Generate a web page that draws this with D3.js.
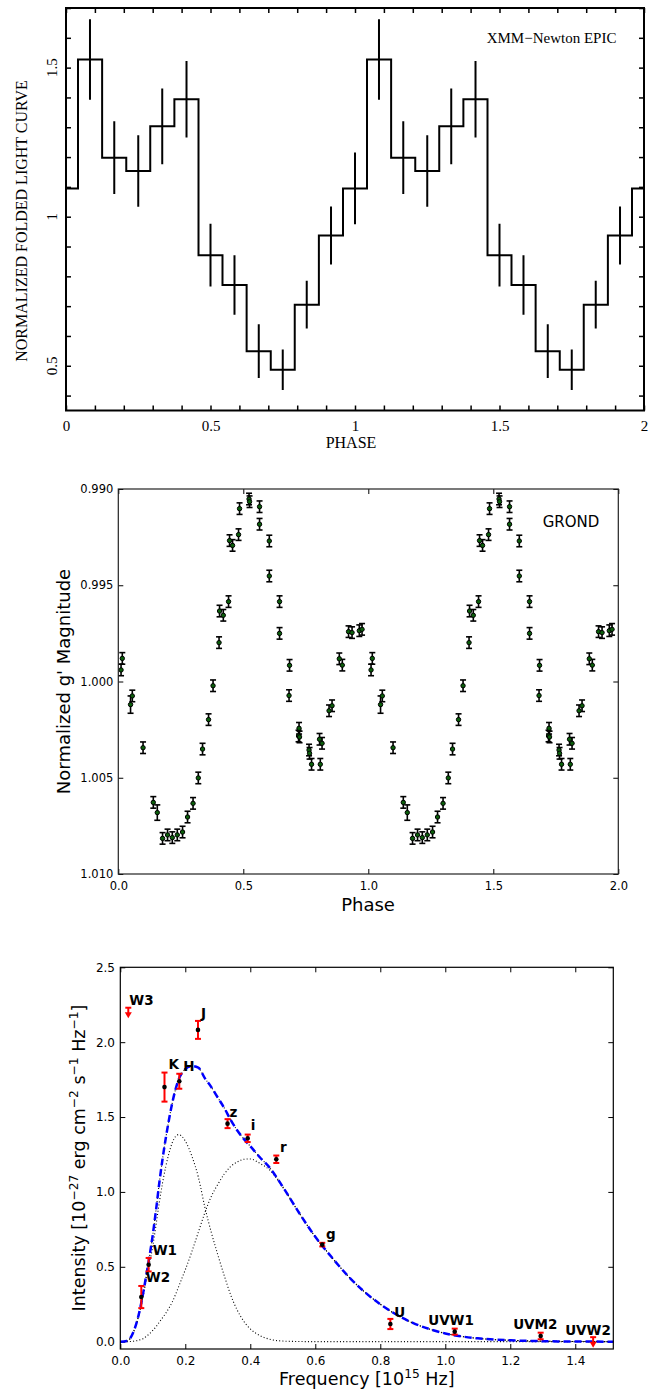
<!DOCTYPE html>
<html>
<head>
<meta charset="utf-8">
<script src="https://cdn.jsdelivr.net/npm/d3@7"></script>
<style>
  html, body { margin: 0; padding: 0; background: #ffffff; }
  svg { display: block; }
</style>
</head>
<body>
<svg id="chart" width="659" height="1392"></svg>
<script>
// ===== Panel A: XMM-Newton EPIC folded X-ray light curve (12 bins per cycle) =====
const xrayPhase = [0.000, 0.083, 0.167, 0.250, 0.333, 0.417, 0.500, 0.583, 0.667, 0.750, 0.833, 0.917];
const xrayRate  = [1.095, 1.527, 1.198, 1.153, 1.303, 1.394, 0.871, 0.771, 0.549, 0.487, 0.705, 0.937];
const xrayErr   = [0.120, 0.135, 0.122, 0.120, 0.127, 0.128, 0.105, 0.100, 0.090, 0.068, 0.080, 0.097];
const xrayCycles = [0, 1];
const xrayXMajor = [0, 0.5, 1, 1.5, 2];
const xrayXMinor = [0.1, 0.2, 0.3, 0.4, 0.6, 0.7, 0.8, 0.9, 1.1, 1.2, 1.3, 1.4, 1.6, 1.7, 1.8, 1.9];
const xrayYMajor = [0.5, 1, 1.5];
const xrayYMinor = [0.4, 0.6, 0.7, 0.8, 0.9, 1.1, 1.2, 1.3, 1.4, 1.6, 1.7];

// ===== Panel B: GROND g' folded optical light curve =====
const opticalPhase = [0.011, 0.016, 0.049, 0.056, 0.099, 0.140, 0.156, 0.177, 0.197, 0.216,
                      0.236, 0.257, 0.277, 0.299, 0.320, 0.337, 0.361, 0.379, 0.403, 0.405,
                      0.420, 0.441, 0.445, 0.457, 0.481, 0.485, 0.523, 0.525, 0.565, 0.565,
                      0.604, 0.604, 0.645, 0.645, 0.685, 0.683, 0.723, 0.721, 0.725, 0.763,
                      0.765, 0.773, 0.805, 0.815, 0.808, 0.843, 0.855, 0.884, 0.896, 0.921,
                      0.935, 0.964, 0.975];
const opticalMag = [0.99940, 0.99880, 1.00120, 1.00075, 1.00344, 1.00628, 1.00681, 1.00815, 1.00797, 1.00811,
                    1.00797, 1.00782, 1.00704, 1.00633, 1.00501, 1.00351, 1.00198, 1.00022, 0.99798, 0.99634,
                    0.99656, 0.99585, 0.99268, 0.99293, 0.99237, 0.99102, 0.99052, 0.99066, 0.99092, 0.99183,
                    0.99270, 0.99452, 0.99585, 0.99750, 0.99916, 1.00073, 1.00243, 1.00283, 1.00288, 1.00356,
                    1.00373, 1.00430, 1.00300, 1.00321, 1.00430, 1.00152, 1.00126, 0.99882, 0.99915, 0.99741,
                    0.99746, 0.99736, 0.99729];
const opticalErr = [0.0003, 0.0003, 0.00045, 0.0003, 0.0003, 0.0003, 0.0004, 0.0003, 0.0003, 0.0003,
                    0.0003, 0.0003, 0.0003, 0.0003, 0.0003, 0.0003, 0.0003, 0.0003, 0.0003, 0.0003,
                    0.0003, 0.0003, 0.0003, 0.0003, 0.0003, 0.0003, 0.0003, 0.0003, 0.0003, 0.0003,
                    0.0003, 0.0003, 0.0003, 0.0003, 0.0003, 0.0003, 0.0003, 0.0003, 0.0003, 0.0003,
                    0.0003, 0.0003, 0.0003, 0.0003, 0.0003, 0.0003, 0.0003, 0.0003, 0.0003, 0.0003,
                    0.0003, 0.0003, 0.0003];
const opticalCycles = [0, 1];
const opticalXTicks = [0, 0.5, 1.0, 1.5, 2.0];
const opticalYTicks = [0.990, 0.995, 1.000, 1.005, 1.010];

// ===== Panel C: spectral energy distribution with two-component model =====
const sedBand = ["W2", "W1", "K", "H", "J", "z", "i", "r", "g", "U", "UVW1", "UVM2"];
const sedFreq = [0.0646, 0.0872, 0.136, 0.1815, 0.239, 0.330, 0.392, 0.480, 0.6215, 0.831, 1.029, 1.2935];
const sedFlux = [0.298, 0.514, 1.700, 1.739, 2.082, 1.456, 1.358, 1.218, 0.648, 0.118, 0.067, 0.038];
const sedErr  = [0.074, 0.045, 0.097, 0.050, 0.060, 0.030, 0.025, 0.025, 0.012, 0.034, 0.020, 0.022];
const limitBand = ["W3", "UVW2"];
const limitFreq = [0.0246, 1.455];
const limitFlux = [2.20, 0.00];

const modelFreq = [0, 0.02, 0.03, 0.04, 0.05, 0.06, 0.07, 0.08, 0.09, 0.10,
                   0.11, 0.12, 0.13, 0.14, 0.15, 0.16, 0.17, 0.18, 0.19, 0.20,
                   0.22, 0.24, 0.26, 0.28, 0.30, 0.32, 0.34, 0.36, 0.38, 0.40,
                   0.43, 0.46, 0.50, 0.55, 0.60, 0.65, 0.70, 0.75, 0.80, 0.85,
                   0.90, 0.95, 1.00, 1.05, 1.10, 1.15, 1.20, 1.30, 1.40, 1.52];
const coolComponent = [0, 0.005, 0.02, 0.06, 0.12, 0.20, 0.30, 0.41, 0.52, 0.64,
                       0.78, 0.93, 1.06, 1.17, 1.26, 1.33, 1.37, 1.383, 1.37, 1.34,
                       1.24, 1.10, 0.90, 0.73, 0.58, 0.44, 0.31, 0.21, 0.136, 0.085,
                       0.04, 0.016, 0.004, 0.001, 0, 0, 0, 0, 0, 0,
                       0, 0, 0, 0, 0, 0, 0, 0, 0, 0];
const hotComponent = [0, 0, 0.001, 0.003, 0.006, 0.012, 0.02, 0.035, 0.053, 0.075,
                      0.10, 0.13, 0.16, 0.19, 0.225, 0.265, 0.315, 0.37, 0.425, 0.48,
                      0.60, 0.73, 0.86, 0.97, 1.05, 1.12, 1.17, 1.20, 1.218, 1.22,
                      1.19, 1.145, 1.03, 0.86, 0.70, 0.565, 0.44, 0.335, 0.25, 0.18,
                      0.125, 0.085, 0.055, 0.035, 0.022, 0.014, 0.009, 0.003, 0.001, 0];
const modelTotal = [0, 0.005, 0.021, 0.063, 0.126, 0.212, 0.32, 0.445, 0.573, 0.715,
                    0.88, 1.06, 1.22, 1.36, 1.485, 1.595, 1.685, 1.753, 1.795, 1.82,
                    1.84, 1.83, 1.76, 1.70, 1.63, 1.56, 1.48, 1.41, 1.354, 1.305,
                    1.23, 1.161, 1.034, 0.861, 0.70, 0.565, 0.44, 0.335, 0.25, 0.18,
                    0.125, 0.085, 0.055, 0.035, 0.022, 0.014, 0.009, 0.003, 0.001, 0];
const sedXTicks = [0.0, 0.2, 0.4, 0.6, 0.8, 1.0, 1.2, 1.4];
const sedYTicks = [0.0, 0.5, 1.0, 1.5, 2.0, 2.5];

// label placement relative to each point, in pixels
const sedLabelOffset = {
  W3: [1, -7], W2: [4.5, -15], W1: [4, -9.5], K: [4, -18], H: [4, -10.5], J: [3, -12],
  z: [2, -7], i: [3, -8.3], r: [3.7, -7.6], g: [3.7, -6], U: [4, -7.3],
  UVW1: [-26.5, -6.7], UVM2: [-27.5, -6.7], UVW2: [-28, -6.7]
};

// ---------------------------------------------------------------------------
const SERIF = "'Liberation Serif', 'Times New Roman', serif";
const SANS = "'DejaVu Sans', sans-serif";
const svg = d3.select("#chart");

function styleAxis(g, font, size) {
  g.select(".domain").remove();
  g.selectAll("text").attr("font-family", font).attr("font-size", size).attr("fill", "#000");
  g.selectAll("line").attr("stroke", "#000");
  g.attr("font-family", null).attr("font-size", null);
}

function addRich(textSel, parts, fs) {
  const shift = fs * 0.42;
  let up = false;
  parts.forEach(([t, sup]) => {
    const ts = textSel.append("tspan").text(t);
    if (sup) {
      ts.attr("font-size", fs * 0.7);
      if (!up) { ts.attr("dy", -shift); up = true; }
    } else if (up) {
      ts.attr("dy", shift); up = false;
    }
  });
}

// ======================= Panel A =======================
(function () {
  const L = 66, R = 644, T = 8, B = 410.5;
  const x = d3.scaleLinear().domain([0, 2]).range([L, R]);
  const y = d3.scaleLinear().domain([0.35, 1.7]).range([B, T]);
  const g = svg.append("g");

  g.append("clipPath").attr("id", "clipA").append("rect")
    .attr("x", L).attr("y", T).attr("width", R - L).attr("height", B - T);

  const bins = [];
  xrayCycles.forEach(c => xrayPhase.forEach((p, i) => bins.push({ ph: p + c, v: xrayRate[i], e: xrayErr[i] })));
  bins.push({ ph: xrayPhase[0] + 2, v: xrayRate[0], e: xrayErr[0] });

  const plot = g.append("g").attr("clip-path", "url(#clipA)");
  plot.append("path")
    .datum(bins)
    .attr("fill", "none").attr("stroke", "#000").attr("stroke-width", 2)
    .attr("d", d3.line().x(d => x(d.ph)).y(d => y(d.v)).curve(d3.curveStep));
  plot.selectAll("line.err").data(bins).join("line").attr("class", "err")
    .attr("x1", d => x(d.ph)).attr("x2", d => x(d.ph))
    .attr("y1", d => y(d.v - d.e)).attr("y2", d => y(d.v + d.e))
    .attr("stroke", "#000").attr("stroke-width", 2);

  // ticks on all four sides, pointing inward
  const tl = 5;
  const axes = [
    [d3.axisBottom(x).tickValues(xrayXMinor).tickFormat("").tickSizeInner(-tl).tickSizeOuter(0), `translate(0,${B})`],
    [d3.axisTop(x).tickValues(xrayXMinor.concat(xrayXMajor)).tickFormat("").tickSizeInner(-tl).tickSizeOuter(0), `translate(0,${T})`],
    [d3.axisLeft(y).tickValues(xrayYMinor.concat(xrayYMajor)).tickFormat("").tickSizeInner(-tl).tickSizeOuter(0), `translate(${L},0)`],
    [d3.axisRight(y).tickValues(xrayYMinor.concat(xrayYMajor)).tickFormat("").tickSizeInner(-tl).tickSizeOuter(0), `translate(${R},0)`]
  ];
  axes.forEach(([ax, tr]) => {
    const a = g.append("g").attr("transform", tr).call(ax);
    styleAxis(a, SERIF, 15);
    a.selectAll("line").attr("stroke-width", 1.5);
  });
  const xb = g.append("g").attr("transform", `translate(0,${B})`)
    .call(d3.axisBottom(x).tickValues(xrayXMajor).tickFormat(d => String(d)).tickSizeInner(-tl).tickSizeOuter(0).tickPadding(9.5));
  styleAxis(xb, SERIF, 15);
  xb.selectAll("line").attr("stroke-width", 1.5);

  // rotated y tick labels
  g.selectAll("text.ylab").data(xrayYMajor).join("text").attr("class", "ylab")
    .attr("transform", d => `translate(57,${y(d)}) rotate(-90)`)
    .attr("text-anchor", "middle")
    .attr("font-family", SERIF).attr("font-size", 15)
    .text(d => String(d));

  g.append("rect").attr("x", L).attr("y", T).attr("width", R - L).attr("height", B - T)
    .attr("fill", "none").attr("stroke", "#000").attr("stroke-width", 2);

  g.append("text").attr("x", 486.7).attr("y", 43)
    .attr("font-family", SERIF).attr("font-size", 15).text("XMM\u2212Newton EPIC");
  g.append("text").attr("x", 351).attr("y", 448).attr("text-anchor", "middle")
    .attr("font-family", SERIF).attr("font-size", 16).text("PHASE");
  g.append("text").attr("transform", "translate(26.5,221) rotate(-90)").attr("text-anchor", "middle")
    .attr("font-family", SERIF).attr("font-size", 16).text("NORMALIZED FOLDED LIGHT CURVE");
})();

// ======================= Panel B =======================
(function () {
  const L = 118.3, R = 618.3, T = 489, B = 874;
  const x = d3.scaleLinear().domain([0, 2]).range([L, R]);
  const y = d3.scaleLinear().domain([0.990, 1.010]).range([T, B]);
  const g = svg.append("g");
  const tl = 5;

  const xb = g.append("g").attr("transform", `translate(0,${B})`)
    .call(d3.axisBottom(x).tickValues(opticalXTicks).tickFormat(d3.format(".1f")).tickSizeInner(-tl).tickSizeOuter(0).tickPadding(7.8));
  styleAxis(xb, SANS, 11.5);
  const xt = g.append("g").attr("transform", `translate(0,${T})`)
    .call(d3.axisTop(x).tickValues(opticalXTicks).tickFormat("").tickSizeInner(-tl).tickSizeOuter(0));
  styleAxis(xt, SANS, 11.5);
  const yl = g.append("g").attr("transform", `translate(${L},0)`)
    .call(d3.axisLeft(y).tickValues(opticalYTicks).tickFormat(d3.format(".3f")).tickSizeInner(-tl).tickSizeOuter(0).tickPadding(5));
  styleAxis(yl, SANS, 11.5);
  const yr = g.append("g").attr("transform", `translate(${R},0)`)
    .call(d3.axisRight(y).tickValues(opticalYTicks).tickFormat("").tickSizeInner(-tl).tickSizeOuter(0));
  styleAxis(yr, SANS, 11.5);

  const pts = [];
  opticalCycles.forEach(c => opticalPhase.forEach((p, i) => pts.push({ ph: p + c, m: opticalMag[i], e: opticalErr[i] })));

  const eb = g.append("g").attr("stroke", "#000").attr("stroke-width", 1.6);
  eb.selectAll("line.bar").data(pts).join("line").attr("class", "bar")
    .attr("x1", d => x(d.ph)).attr("x2", d => x(d.ph))
    .attr("y1", d => y(d.m - d.e)).attr("y2", d => y(d.m + d.e));
  eb.selectAll("line.capt").data(pts).join("line").attr("class", "capt")
    .attr("x1", d => x(d.ph) - 3).attr("x2", d => x(d.ph) + 3)
    .attr("y1", d => y(d.m - d.e)).attr("y2", d => y(d.m - d.e));
  eb.selectAll("line.capb").data(pts).join("line").attr("class", "capb")
    .attr("x1", d => x(d.ph) - 3).attr("x2", d => x(d.ph) + 3)
    .attr("y1", d => y(d.m + d.e)).attr("y2", d => y(d.m + d.e));
  g.append("g").selectAll("circle").data(pts).join("circle")
    .attr("cx", d => x(d.ph)).attr("cy", d => y(d.m)).attr("r", 2.2)
    .attr("fill", "#0b5e0b").attr("stroke", "#000").attr("stroke-width", 1);

  g.append("rect").attr("x", L).attr("y", T).attr("width", R - L).attr("height", B - T)
    .attr("fill", "none").attr("stroke", "#222").attr("stroke-width", 1.2);

  g.append("text").attr("x", 542.7).attr("y", 527).attr("font-family", SANS).attr("font-size", 15).text("GROND");
  g.append("text").attr("x", 368).attr("y", 911).attr("text-anchor", "middle")
    .attr("font-family", SANS).attr("font-size", 18).text("Phase");
  g.append("text").attr("transform", "translate(69.5,681.5) rotate(-90)").attr("text-anchor", "middle")
    .attr("font-family", SANS).attr("font-size", 18).text("Normalized g' Magnitude");
})();

// ======================= Panel C =======================
(function () {
  const L = 120.3, R = 613.3, T = 967.3, B = 1349;
  const x = d3.scaleLinear().domain([0, 1.517]).range([L, R]);
  const y = d3.scaleLinear().domain([-0.049, 2.5]).range([B, T]);
  const g = svg.append("g");
  const tl = 5;

  g.append("clipPath").attr("id", "clipC").append("rect")
    .attr("x", L).attr("y", T).attr("width", R - L).attr("height", B - T);

  const xb = g.append("g").attr("transform", `translate(0,${B})`)
    .call(d3.axisBottom(x).tickValues(sedXTicks).tickFormat(d3.format(".1f")).tickSizeInner(-tl).tickSizeOuter(0).tickPadding(7.5));
  styleAxis(xb, SANS, 12);
  const xt = g.append("g").attr("transform", `translate(0,${T})`)
    .call(d3.axisTop(x).tickValues(sedXTicks).tickFormat("").tickSizeInner(-tl).tickSizeOuter(0));
  styleAxis(xt, SANS, 12);
  const yl = g.append("g").attr("transform", `translate(${L},0)`)
    .call(d3.axisLeft(y).tickValues(sedYTicks).tickFormat(d3.format(".1f")).tickSizeInner(-tl).tickSizeOuter(0).tickPadding(5.3));
  styleAxis(yl, SANS, 12);
  const yr = g.append("g").attr("transform", `translate(${R},0)`)
    .call(d3.axisRight(y).tickValues(sedYTicks).tickFormat("").tickSizeInner(-tl).tickSizeOuter(0));
  styleAxis(yr, SANS, 12);

  // model curves
  const plot = g.append("g").attr("clip-path", "url(#clipC)");
  const mk = arr => modelFreq.map((f, i) => ({ f: f, v: arr[i] }));
  const line = d3.line().x(d => x(d.f)).y(d => y(d.v)).curve(d3.curveMonotoneX);
  [coolComponent, hotComponent, modelTotal].forEach(arr => {
    plot.append("path").datum(mk(arr)).attr("d", line)
      .attr("fill", "none").attr("stroke", "#000").attr("stroke-width", 1.1)
      .attr("stroke-dasharray", "1,2.2");
  });
  plot.append("path").datum(mk(modelTotal)).attr("d", line)
    .attr("fill", "none").attr("stroke", "#0000ff").attr("stroke-width", 2.5)
    .attr("stroke-dasharray", "7,4");

  // photometry with error bars
  const pts = sedBand.map((b, i) => ({ b: b, f: sedFreq[i], v: sedFlux[i], e: sedErr[i] }));
  const eb = g.append("g").attr("stroke", "#ff0000").attr("stroke-width", 2);
  eb.selectAll("line.bar").data(pts).join("line").attr("class", "bar")
    .attr("x1", d => x(d.f)).attr("x2", d => x(d.f))
    .attr("y1", d => y(d.v - d.e)).attr("y2", d => y(d.v + d.e));
  eb.selectAll("line.capt").data(pts).join("line").attr("class", "capt")
    .attr("x1", d => x(d.f) - 3).attr("x2", d => x(d.f) + 3)
    .attr("y1", d => y(d.v + d.e)).attr("y2", d => y(d.v + d.e));
  eb.selectAll("line.capb").data(pts).join("line").attr("class", "capb")
    .attr("x1", d => x(d.f) - 3).attr("x2", d => x(d.f) + 3)
    .attr("y1", d => y(d.v - d.e)).attr("y2", d => y(d.v - d.e));
  g.append("g").selectAll("circle").data(pts).join("circle")
    .attr("cx", d => x(d.f)).attr("cy", d => y(d.v)).attr("r", 2.3).attr("fill", "#000");

  // upper limits
  const lims = limitBand.map((b, i) => ({ b: b, f: limitFreq[i], v: limitFlux[i] }));
  const lg = g.append("g");
  lims.forEach(d => {
    const cx = x(d.f), cy = y(d.v);
    lg.append("line").attr("x1", cx).attr("x2", cx).attr("y1", cy - 4.5).attr("y2", cy + 1)
      .attr("stroke", "#ff0000").attr("stroke-width", 2);
    lg.append("line").attr("x1", cx - 3).attr("x2", cx + 3).attr("y1", cy - 4.5).attr("y2", cy - 4.5)
      .attr("stroke", "#ff0000").attr("stroke-width", 2);
    lg.append("path").attr("d", `M${cx - 3.5},${cy}L${cx + 3.5},${cy}L${cx},${cy + 6}Z`).attr("fill", "#ff0000");
  });

  // band labels
  const labels = pts.map(d => ({ b: d.b, f: d.f, v: d.v })).concat(lims);
  g.append("g").selectAll("text").data(labels).join("text")
    .attr("x", d => x(d.f) + sedLabelOffset[d.b][0])
    .attr("y", d => y(d.v) + sedLabelOffset[d.b][1])
    .attr("font-family", SANS).attr("font-size", 13.5).attr("font-weight", "bold")
    .text(d => d.b);

  g.append("rect").attr("x", L).attr("y", T).attr("width", R - L).attr("height", B - T)
    .attr("fill", "none").attr("stroke", "#000").attr("stroke-width", 1.2);

  const xlab = g.append("text").attr("x", 366.8).attr("y", 1385).attr("text-anchor", "middle")
    .attr("font-family", SANS).attr("font-size", 17.5);
  addRich(xlab, [["Frequency [10", false], ["15", true], [" Hz]", false]], 17.5);
  const ylab = g.append("text").attr("transform", "translate(85,1158) rotate(-90)").attr("text-anchor", "middle")
    .attr("font-family", SANS).attr("font-size", 17.5);
  addRich(ylab, [["Intensity [10", false], ["\u221227", true], [" erg cm", false], ["\u22122", true],
                 [" s", false], ["\u22121", true], [" Hz", false], ["\u22121", true], ["]", false]], 17.5);
})();
</script>
</body>
</html>
